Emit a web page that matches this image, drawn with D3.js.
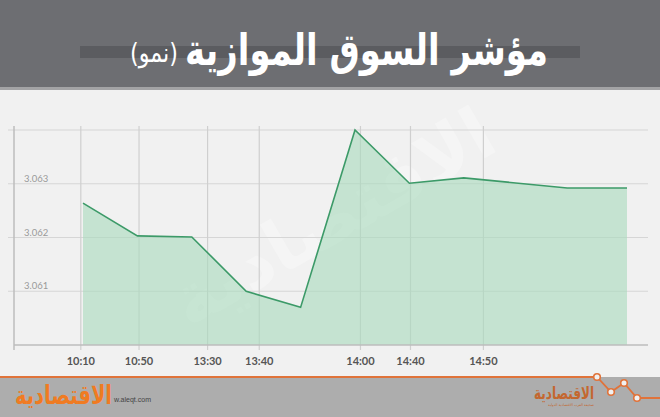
<!DOCTYPE html>
<html><head><meta charset="utf-8">
<script src="https://cdn.jsdelivr.net/npm/d3@7"></script>
<style>
html,body{margin:0;padding:0;background:#f1f1f1;}
svg{display:block;}
</style></head>
<body>
<script>
// ---- data ----
const slots = [0, 1, 2, 3, 4, 5, 6, 7, 8.9, 10];
const values = [3.06264, 3.06203, 3.06201, 3.06100, 3.06070, 3.06400, 3.06301, 3.06311, 3.06292, 3.06292];
const tickLabels = ["10:10", "10:50", "13:30", "13:40", "14:00", "14:40", "14:50"];
const tickSlots = [-0.04, 1.03, 2.29, 3.24, 5.10, 6.02, 7.36];
const yGrid = [3.060, 3.061, 3.062, 3.063, 3.064];
const yLabelVals = [3.061, 3.062, 3.063];
const titleMain = "مؤشر السوق الموازية";
const titleSub = "(نمو)";
const brand = "الاقتصادية";
const site = "w.aleqt.com";

const W = 660, H = 417;
const svg = d3.select("body").append("svg").attr("width", W).attr("height", H);

svg.append("rect").attr("width", W).attr("height", H).attr("fill", "#f1f1f1");

// header
svg.append("rect").attr("x", 0).attr("y", 0).attr("width", W).attr("height", 90).attr("fill", "#a3a3a5");
svg.append("rect").attr("x", 0).attr("y", 0).attr("width", W).attr("height", 87).attr("fill", "#6d6e72");
svg.append("rect").attr("x", 80).attr("y", 46).attr("width", 500).attr("height", 12).attr("fill", "#5b5c60");

const targetW = 363;
const tMain = svg.append("text").attr("x", 0).attr("y", 0)
  .attr("text-anchor", "end").attr("fill", "#ffffff")
  .attr("font-family", "DejaVu Sans, sans-serif").attr("font-weight", "bold")
  .attr("font-size", 44).text(titleMain);
const mw = tMain.node().getComputedTextLength();
tMain.attr("transform", `translate(548,65) scale(${targetW / mw},1)`);
const tSub = svg.append("text").attr("x", 0).attr("y", 0)
  .attr("text-anchor", "end").attr("fill", "#ffffff")
  .attr("font-family", "DejaVu Sans, sans-serif").attr("font-weight", "normal")
  .attr("font-size", 27).text(titleSub);
const sw = tSub.node().getComputedTextLength();
tSub.attr("transform", `translate(${548 - targetW - 7},62) scale(${48 / sw},1)`);

// scales
const x = d3.scaleLinear().domain([0, 10]).range([83, 627]);
const y = d3.scaleLinear().domain([3.060, 3.064]).range([345, 130]);

// watermark
svg.append("text")
  .attr("transform", "translate(335,222) rotate(-30)")
  .attr("text-anchor", "middle").attr("dominant-baseline", "middle")
  .attr("font-family", "DejaVu Sans, sans-serif").attr("font-weight", "bold")
  .attr("font-size", 72).attr("fill", "#ffffff").attr("opacity", 0.3)
  .text(brand);

// grid
const g = svg.append("g");
g.selectAll("line.h").data(yGrid.slice(1)).join("line")
  .attr("x1", 8).attr("x2", 648)
  .attr("y1", d => y(d)).attr("y2", d => y(d))
  .attr("stroke", "#d6d6d6").attr("stroke-width", 1.2);
g.selectAll("line.v").data(tickSlots).join("line")
  .attr("x1", d => x(d)).attr("x2", d => x(d))
  .attr("y1", 126).attr("y2", 350)
  .attr("stroke", "#cfcfcf").attr("stroke-width", 1.2);

// area + line
const area = d3.area().x((d, i) => x(slots[i])).y0(y(3.060)).y1(d => y(d));
const line = d3.line().x((d, i) => x(slots[i])).y(d => y(d));
svg.append("path").datum(values).attr("d", area).attr("fill", "#a8dbbd").attr("opacity", 0.6);
svg.append("path").datum(values).attr("d", line).attr("fill", "none")
  .attr("stroke", "#3c9a68").attr("stroke-width", 1.6).attr("stroke-linejoin", "miter");

// axes lines
svg.append("line").attr("x1", 14).attr("x2", 14).attr("y1", 126).attr("y2", 350)
  .attr("stroke", "#bdbdbd").attr("stroke-width", 1.5);
svg.append("line").attr("x1", 14).attr("x2", 648).attr("y1", y(3.060)).attr("y2", y(3.060))
  .attr("stroke", "#bdbdbd").attr("stroke-width", 1.5);

// y labels
svg.selectAll("text.yl").data(yLabelVals).join("text")
  .attr("x", 24).attr("y", d => y(d) - 2)
  .attr("fill", "#9a9a9a").attr("font-family", "Lato, sans-serif").attr("font-weight", 400).attr("font-size", 9.5)
  .text(d => d3.format(".3f")(d));

// x labels
svg.selectAll("text.xl").data(tickLabels).join("text")
  .attr("x", (d, i) => x(tickSlots[i])).attr("y", 365)
  .attr("text-anchor", "middle").attr("fill", "#555555")
  .attr("font-family", "Lato, sans-serif").attr("font-weight", "bold").attr("font-size", 11)
  .text(d => d);

// footer
svg.append("rect").attr("x", 0).attr("y", 377).attr("width", W).attr("height", 40).attr("fill", "#adadad");
const zig = [[0, 377], [597, 377], [611, 392], [624, 383], [637, 398], [660, 398]];
svg.append("path").attr("d", d3.line()(zig)).attr("fill", "none")
  .attr("stroke", "#e0733a").attr("stroke-width", 1.8);
svg.selectAll("circle.z").data(zig.slice(1, 5)).join("circle")
  .attr("cx", d => d[0]).attr("cy", d => d[1]).attr("r", 3.3)
  .attr("fill", "#f1f1f1").attr("stroke", "#e0733a").attr("stroke-width", 1.6);

svg.append("text").attr("x", 114).attr("y", 402).attr("text-anchor", "start")
  .attr("fill", "#444").attr("font-family", "Liberation Sans, sans-serif").attr("font-size", 7)
  .text(site);
const lb = svg.append("text").attr("x", 0).attr("y", 0).attr("text-anchor", "end")
  .attr("fill", "#f07b22").attr("font-family", "DejaVu Sans, sans-serif").attr("font-weight", "bold")
  .attr("font-size", 26).text(brand);
const lw = lb.node().getComputedTextLength();
lb.attr("transform", `translate(112,404) scale(${97 / lw},1)`);

const rb = svg.append("text").attr("x", 0).attr("y", 0).attr("text-anchor", "end")
  .attr("fill", "#c4672f").attr("font-family", "DejaVu Sans, sans-serif").attr("font-weight", "bold")
  .attr("font-size", 17).text(brand);
const rw = rb.node().getComputedTextLength();
rb.attr("transform", `translate(594,399) scale(${60 / rw},1)`);
svg.append("text").attr("x", 594).attr("y", 406).attr("text-anchor", "end")
  .attr("fill", "#c4672f").attr("font-family", "DejaVu Sans, sans-serif")
  .attr("font-size", 3.5).text("صحيفة العرب الاقتصادية الدولية");
</script>
</body></html>
